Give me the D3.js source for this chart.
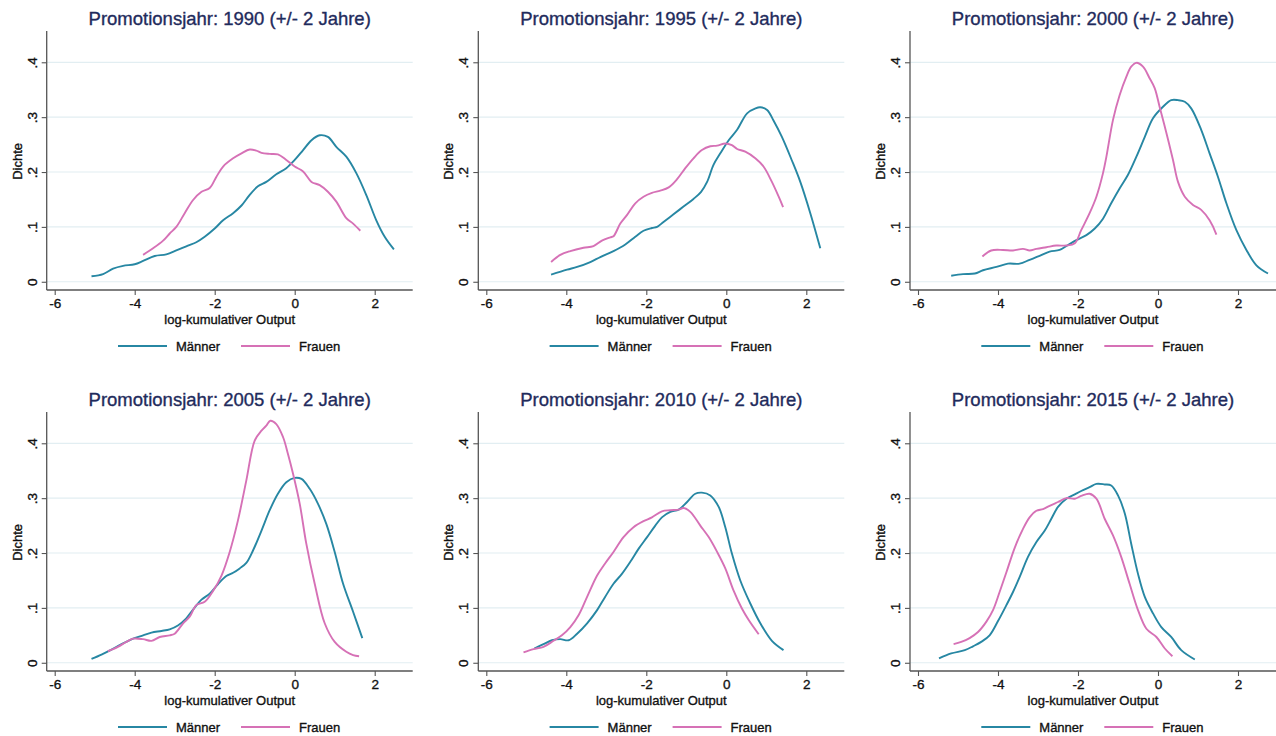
<!DOCTYPE html>
<html><head><meta charset="utf-8">
<script src="https://cdn.jsdelivr.net/npm/d3@7"></script>
<style>body{margin:0;background:#fff}svg{display:block;font-family:"Liberation Sans",Arial,sans-serif}</style>
</head><body><svg id="c" width="1276" height="736"></svg>
<script>
const years = [1990, 1995, 2000, 2005, 2010, 2015];
const seriesNames = ["Männer", "Frauen"];
const xTicks = [-6, -4, -2, 0, 2];
const yTicks = [0, 0.1, 0.2, 0.3, 0.4];
const yTickLabels = ["0", ".1", ".2", ".3", ".4"];
const xLabel = "log-kumulativer Output";
const yLabel = "Dichte";

const maenner1990 = [[-5.08,.010],[-4.79,.014],[-4.54,.024],[-4.29,.029],[-4.0,.032],[-3.79,.038],[-3.5,.047],[-3.21,.050],[-2.96,.057],[-2.67,.066],[-2.46,.072],[-2.25,.082],[-2.0,.097],[-1.79,.112],[-1.54,.125],[-1.33,.139],[-1.13,.158],[-0.92,.174],[-0.71,.182],[-0.46,.196],[-0.21,.207],[0,.222],[0.21,.240],[0.42,.258],[0.625,.267],[0.83,.264],[1.04,.246],[1.29,.228],[1.54,.198],[1.79,.158],[2.04,.112],[2.25,.082],[2.48,.059]];
const frauen1990 = [[-3.79,.049],[-3.54,.061],[-3.29,.075],[-3.125,.088],[-2.96,.100],[-2.75,.125],[-2.54,.149],[-2.33,.164],[-2.125,.171],[-1.96,.191],[-1.79,.210],[-1.54,.225],[-1.33,.234],[-1.125,.241],[-0.96,.239],[-0.83,.235],[-0.625,.233],[-0.42,.232],[-0.21,.222],[0,.210],[0.21,.201],[0.42,.182],[0.625,.176],[0.83,.164],[1.04,.146],[1.29,.116],[1.46,.106],[1.64,.093]];

const maenner1995 = [[-4.38,.013],[-3.98,.022],[-3.73,.027],[-3.4,.036],[-3.15,.045],[-2.82,.056],[-2.525,.068],[-2.275,.082],[-2.07,.093],[-1.86,.098],[-1.73,.100],[-1.57,.109],[-1.32,.123],[-1.07,.137],[-0.82,.151],[-0.63,.164],[-0.48,.182],[-0.32,.213],[-0.15,.234],[0.06,.258],[0.27,.277],[0.52,.307],[0.73,.316],[0.85,.318],[1.02,.313],[1.18,.294],[1.39,.264],[1.64,.221],[1.85,.182],[2.1,.125],[2.35,.061]];
const frauen1995 = [[-4.38,.036],[-4.15,.049],[-3.9,.056],[-3.57,.062],[-3.32,.065],[-3.11,.075],[-2.9,.081],[-2.82,.083],[-2.65,.106],[-2.48,.122],[-2.275,.143],[-2.07,.155],[-1.86,.162],[-1.65,.166],[-1.44,.172],[-1.23,.187],[-1.025,.207],[-0.82,.225],[-0.61,.240],[-0.4,.247],[-0.23,.248],[-0.025,.252],[0.14,.249],[0.27,.242],[0.475,.237],[0.725,.225],[0.93,.210],[1.14,.182],[1.31,.155],[1.42,.136]];

const maenner2000 = [[-5.17,.011],[-4.875,.014],[-4.58,.015],[-4.375,.021],[-4.04,.027],[-3.75,.033],[-3.46,.033],[-3.21,.040],[-2.96,.047],[-2.71,.055],[-2.46,.058],[-2.25,.067],[-2.04,.076],[-1.79,.085],[-1.58,.097],[-1.375,.115],[-1.17,.143],[-0.96,.170],[-0.75,.195],[-0.54,.228],[-0.33,.264],[-0.125,.298],[0.125,.319],[0.33,.331],[0.5,.331],[0.67,.328],[0.83,.316],[1.08,.277],[1.29,.234],[1.5,.191],[1.71,.143],[1.96,.094],[2.21,.058],[2.46,.030],[2.75,.015]];
const frauen2000 = [[-4.39,.046],[-4.17,.057],[-3.875,.058],[-3.625,.057],[-3.375,.060],[-3.21,.057],[-3.04,.060],[-2.79,.063],[-2.54,.066],[-2.29,.066],[-2.08,.070],[-1.92,.094],[-1.71,.125],[-1.54,.155],[-1.375,.198],[-1.29,.228],[-1.125,.295],[-0.96,.340],[-0.79,.374],[-0.67,.392],[-0.54,.399],[-0.375,.392],[-0.21,.371],[-0.083,.353],[0.04,.319],[0.21,.271],[0.375,.222],[0.5,.182],[0.67,.155],[0.875,.140],[1.08,.131],[1.29,.112],[1.46,.086]];

const maenner2005 = [[-5.08,.007],[-4.83,.015],[-4.58,.024],[-4.33,.034],[-4.04,.044],[-3.79,.050],[-3.58,.055],[-3.33,.058],[-3.125,.061],[-2.92,.068],[-2.71,.081],[-2.54,.097],[-2.33,.115],[-2.125,.126],[-1.92,.143],[-1.71,.158],[-1.54,.164],[-1.375,.172],[-1.21,.182],[-1.04,.205],[-0.83,.241],[-0.625,.278],[-0.42,.308],[-0.21,.329],[0,.337],[0.17,.335],[0.375,.317],[0.58,.290],[0.79,.253],[1.0,.202],[1.21,.144],[1.46,.093],[1.69,.045]];
const frauen2005 = [[-4.67,.021],[-4.42,.029],[-4.21,.038],[-4.04,.044],[-3.79,.043],[-3.58,.040],[-3.375,.047],[-3.125,.050],[-3.0,.053],[-2.79,.072],[-2.625,.084],[-2.46,.105],[-2.25,.111],[-2.04,.131],[-1.83,.159],[-1.625,.202],[-1.42,.259],[-1.21,.332],[-1.0,.405],[-0.83,.423],[-0.71,.432],[-0.61,.441],[-0.46,.435],[-0.29,.411],[-0.17,.381],[-0.04,.344],[0.125,.290],[0.29,.217],[0.5,.144],[0.75,.072],[1.0,.038],[1.29,.020],[1.46,.014],[1.61,.012]];

const maenner2010 = [[-4.8,.026],[-4.57,.034],[-4.36,.041],[-4.15,.043],[-3.94,.041],[-3.73,.053],[-3.48,.072],[-3.23,.096],[-3.03,.120],[-2.82,.144],[-2.61,.162],[-2.4,.184],[-2.19,.208],[-1.98,.229],[-1.775,.250],[-1.61,.265],[-1.4,.275],[-1.19,.279],[-0.98,.293],[-0.775,.308],[-0.61,.310],[-0.4,.305],[-0.19,.284],[-0.025,.247],[0.14,.199],[0.35,.150],[0.6,.108],[0.85,.072],[1.14,.040],[1.43,.023]];
const frauen2010 = [[-5.07,.019],[-4.82,.025],[-4.57,.029],[-4.32,.040],[-4.11,.050],[-3.9,.065],[-3.69,.087],[-3.48,.120],[-3.23,.159],[-3.03,.181],[-2.82,.202],[-2.57,.229],[-2.32,.247],[-2.07,.258],[-1.86,.265],[-1.61,.276],[-1.4,.278],[-1.19,.279],[-1.07,.282],[-0.9,.275],[-0.65,.250],[-0.44,.229],[-0.23,.202],[-0.025,.172],[0.18,.132],[0.39,.099],[0.56,.078],[0.81,.052]];

const maenner2015 = [[-5.475,.008],[-5.17,.017],[-4.83,.023],[-4.625,.030],[-4.42,.038],[-4.21,.050],[-4.0,.076],[-3.79,.105],[-3.625,.129],[-3.46,.156],[-3.25,.193],[-3.04,.220],[-2.83,.241],[-2.67,.262],[-2.5,.284],[-2.29,.299],[-2.08,.307],[-1.92,.313],[-1.71,.320],[-1.54,.326],[-1.33,.325],[-1.17,.323],[-1.0,.305],[-0.83,.272],[-0.67,.217],[-0.5,.162],[-0.33,.120],[-0.125,.090],[0.083,.065],[0.33,.047],[0.58,.023],[0.92,.006]];
const frauen2015 = [[-5.11,.034],[-4.92,.038],[-4.71,.045],[-4.5,.056],[-4.29,.075],[-4.125,.096],[-3.96,.129],[-3.79,.165],[-3.58,.210],[-3.375,.244],[-3.21,.265],[-3.04,.277],[-2.875,.280],[-2.71,.286],[-2.5,.293],[-2.29,.300],[-2.08,.299],[-1.92,.304],[-1.71,.308],[-1.54,.299],[-1.33,.262],[-1.125,.232],[-0.92,.193],[-0.71,.144],[-0.5,.096],[-0.29,.062],[-0.04,.047],[0.17,.026],[0.36,.012]];

const panels = [
  {year: years[0], m: maenner1990, f: frauen1990},
  {year: years[1], m: maenner1995, f: frauen1995},
  {year: years[2], m: maenner2000, f: frauen2000},
  {year: years[3], m: maenner2005, f: frauen2005},
  {year: years[4], m: maenner2010, f: frauen2010},
  {year: years[5], m: maenner2015, f: frauen2015}
];

const colors = ["#2787a3", "#d671b6"];
const titleColor = "#1f2b5c";
const svg = d3.select("#c");
const colOff = [0, 431.6, 863.3];
const rowOff = [0, 381];

const x = d3.scaleLinear().domain([-6.2, 2.95]).range([46.7, 412.7]);
const y = d3.scaleLinear().domain([-0.015, 0.457]).range([290, 31]);
const line = d3.line().x(d => x(d[0])).y(d => y(d[1])).curve(d3.curveCatmullRom.alpha(0.5));

function heavy(sel, c) {
  sel.attr("stroke", c).attr("stroke-width", 0.35).attr("paint-order", "stroke");
}

panels.forEach((p, i) => {
  const g = svg.append("g").attr("transform", `translate(${colOff[i % 3]},${rowOff[Math.floor(i / 3)]})`);
  g.selectAll(".grid").data(yTicks).join("line")
    .attr("x1", x.range()[0]).attr("x2", x.range()[1])
    .attr("y1", d => y(d)).attr("y2", d => y(d))
    .attr("stroke", "#e2eef2").attr("stroke-width", 1.2);
  const ya = g.append("g").attr("transform", `translate(${x.range()[0]},0)`)
    .call(d3.axisLeft(y).tickValues(yTicks).tickFormat((d, k) => yTickLabels[k]).tickSize(5).tickPadding(4));
  ya.select(".domain").attr("d", `M0,${y.range()[0]}V${y.range()[1]}`);
  ya.selectAll(".tick text").attr("transform", "rotate(-90)").attr("text-anchor", "middle").attr("x", 0).attr("dy", 0)
    .attr("y", -10);
  const xa = g.append("g").attr("transform", `translate(0,${y.range()[0]})`)
    .call(d3.axisBottom(x).tickValues(xTicks).tickFormat(d3.format("d")).tickSize(5).tickPadding(3));
  xa.select(".domain").attr("d", `M${x.range()[0]},0H${x.range()[1]}`);
  [ya, xa].forEach(a => {
    a.selectAll(".domain").attr("stroke", "#555").attr("stroke-width", 1.3);
    a.selectAll(".tick line").attr("stroke", "#555").attr("stroke-width", 1.1);
    a.selectAll(".tick text").attr("font-size", 13.5).attr("fill", "#111").attr("font-family", "Liberation Sans, Arial, sans-serif");
    heavy(a.selectAll(".tick text"), "#111");
  });
  xa.selectAll(".tick text").text(d => d < 0 ? "-" + Math.abs(d) : d);
  [p.m, p.f].forEach((data, k) => {
    g.append("path").datum(data).attr("d", line).attr("fill", "none")
      .attr("stroke", colors[k]).attr("stroke-width", 1.9).attr("stroke-linejoin", "round");
  });
  heavy(g.append("text").attr("x", (x.range()[0] + x.range()[1]) / 2).attr("y", 24.5)
    .attr("text-anchor", "middle").attr("font-size", 18.5).attr("fill", titleColor)
    .text(`Promotionsjahr: ${p.year} (+/- 2 Jahre)`), titleColor);
  heavy(g.append("text").attr("x", (x.range()[0] + x.range()[1]) / 2).attr("y", 323.5)
    .attr("text-anchor", "middle").attr("font-size", 13).attr("fill", "#111").text(xLabel), "#111");
  heavy(g.append("text").attr("transform", `translate(21.5,${(y(0) + y.range()[1]) / 2 + 5}) rotate(-90)`)
    .attr("text-anchor", "middle").attr("font-size", 13).attr("fill", "#111").text(yLabel), "#111");
  const lx = [118, 241], ly = 346;
  seriesNames.forEach((n, k) => {
    g.append("line").attr("x1", lx[k]).attr("x2", lx[k] + 49).attr("y1", ly).attr("y2", ly)
      .attr("stroke", colors[k]).attr("stroke-width", 1.9);
    heavy(g.append("text").attr("x", lx[k] + 58).attr("y", ly + 4.5).attr("font-size", 13).attr("fill", "#111").text(n), "#111");
  });
});
</script></body></html>
